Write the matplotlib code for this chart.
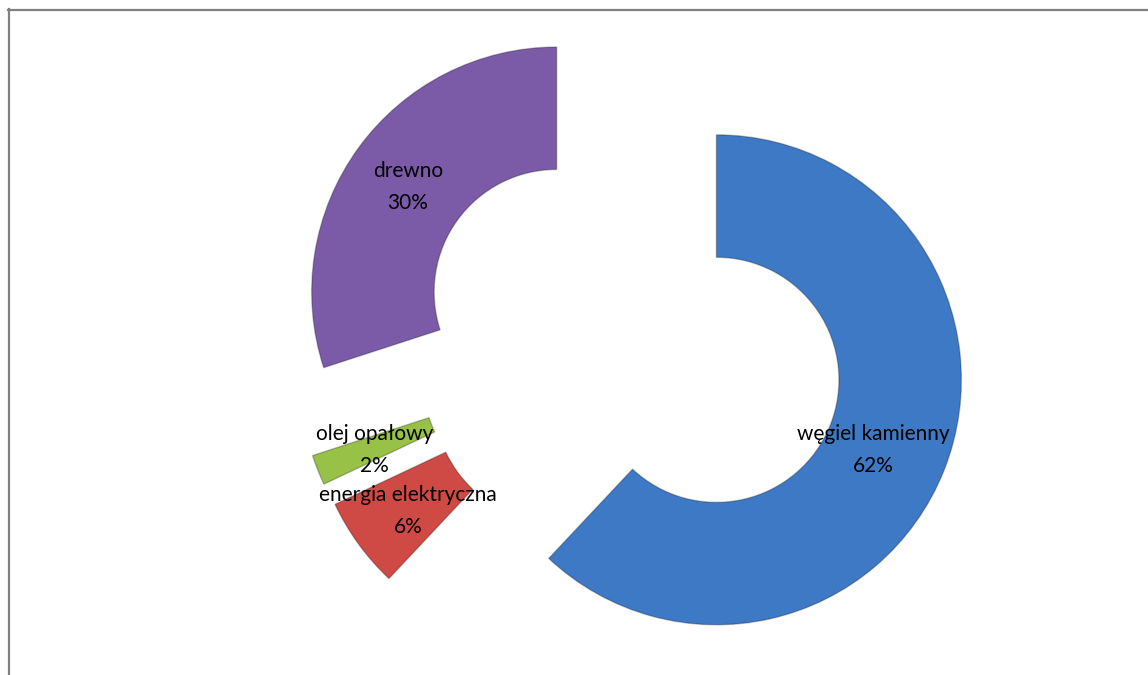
import matplotlib.pyplot as plt
from matplotlib.lines import Line2D

# Data
categories = ["węgiel kamienny", "energia elektryczna", "olej opałowy", "drewno"]
values = [62, 6, 2, 30]
colors = ["#3E79C6", "#CF4A45", "#98C147", "#7B5BA8"]

labels = [f"{c}\n{v}%" for c, v in zip(categories, values)]

fig = plt.figure(figsize=(11.48, 6.75), dpi=100)
ax = fig.add_axes([0, 0, 1, 1])

wedges, texts = ax.pie(
    values,
    labels=labels,
    colors=colors,
    startangle=90,
    counterclock=False,
    explode=[0.375] * len(values),
    radius=1,
    labeldistance=0.75,
    wedgeprops=dict(width=0.5, edgecolor=(0, 0, 0, 0.25), linewidth=1),
    textprops=dict(fontsize=15, family="Lato", color="black"),
)
for t in texts:
    t.set_ha("center")
    t.set_va("center")
    t.set_multialignment("center")
    t.set_linespacing(1.75)
    x, y = t.get_position()
    t.set_position((x, y - 3 / 245))
# Excel puts the big slice's label a little further in
texts[0].set_x(texts[0].get_position()[0] - 14 / 245)

ax.set_aspect("equal")
ax.set_xlim(-631 / 245, (1148 - 631) / 245)
ax.set_ylim((346 - 675) / 245, 346 / 245)
ax.axis("off")

# chart area border (left and top edges visible)
fig.add_artist(Line2D([8.5 / 1148, 8.5 / 1148], [0, 1 - 9 / 675],
                      color="#808080", lw=1.6, transform=fig.transFigure))
fig.add_artist(Line2D([8 / 1148, 1], [1 - 9.5 / 675, 1 - 9.5 / 675],
                      color="#808080", lw=1.6, transform=fig.transFigure))

fig.savefig("out.png", dpi=100)
